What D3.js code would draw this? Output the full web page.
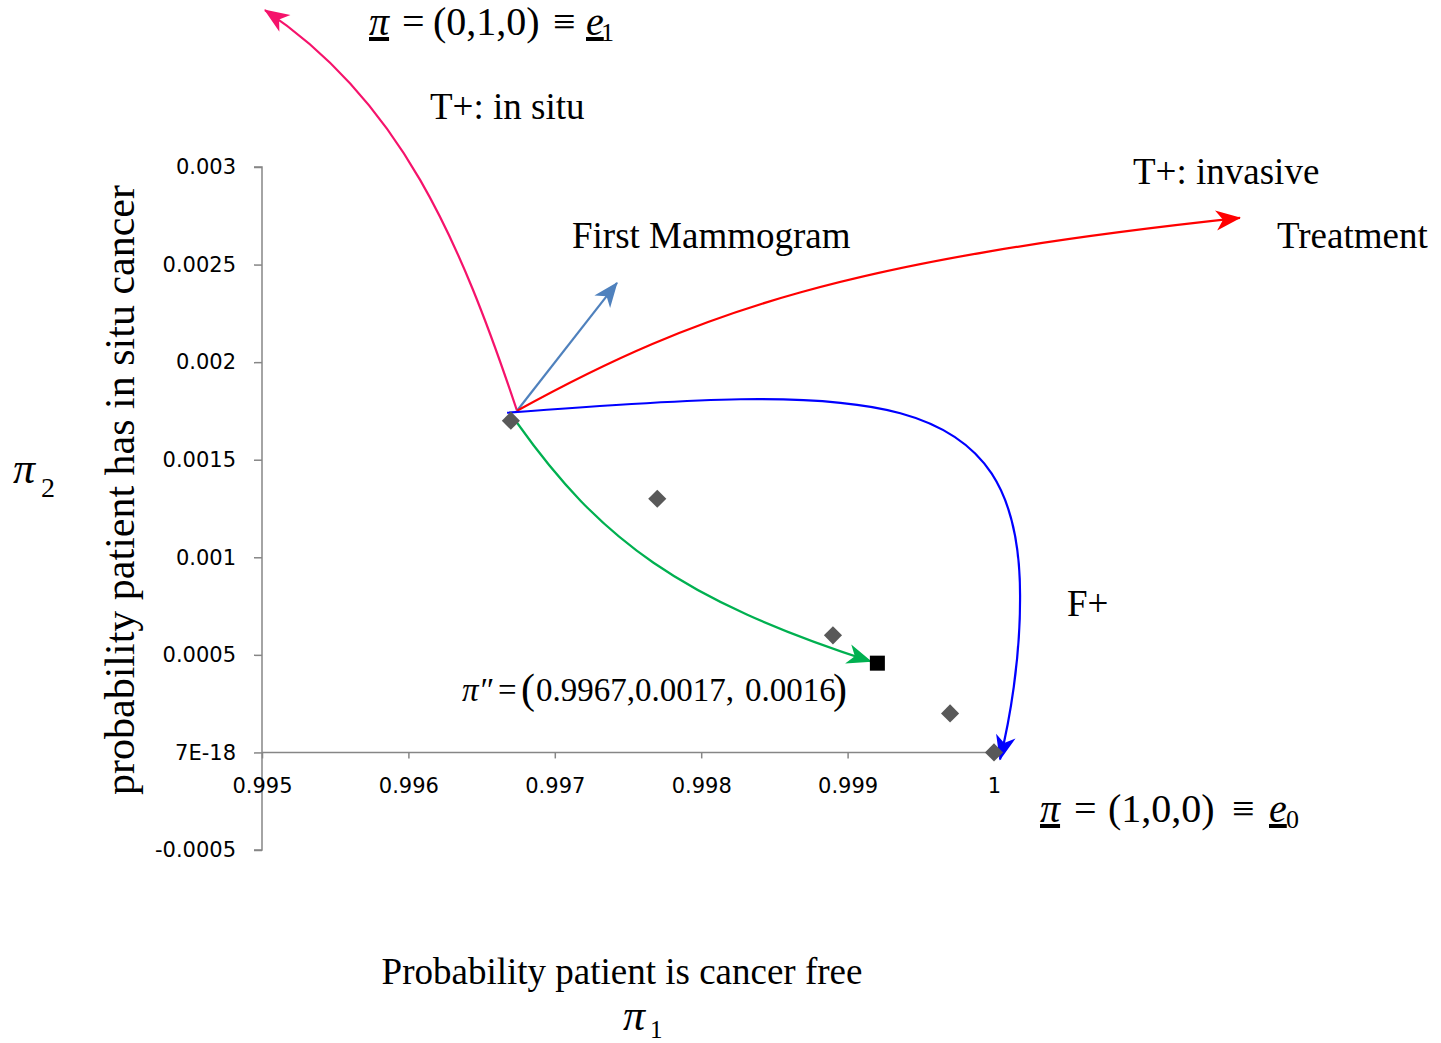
<!DOCTYPE html>
<html><head><meta charset="utf-8">
<script src="https://cdn.jsdelivr.net/npm/d3@7"></script>
<style>html,body{margin:0;padding:0;background:#fff;}svg{display:block;}</style>
</head><body>
<script>
// ---- data ----
const pointsX = [0.9967, 0.9977, 0.9989, 0.9997, 1.0];
const pointsY = [0.0017, 0.0013, 0.0006, 0.0002, 0.0];
const highlightX = [0.9992];
const highlightY = [0.00046];
const xTickValues = [0.995, 0.996, 0.997, 0.998, 0.999, 1];
const xTickLabels = ["0.995", "0.996", "0.997", "0.998", "0.999", "1"];
const yTickValues = [-0.0005, 0, 0.0005, 0.001, 0.0015, 0.002, 0.0025, 0.003];
const yTickLabels = ["-0.0005", "7E-18", "0.0005", "0.001", "0.0015", "0.002", "0.0025", "0.003"];
// annotation arrows (cubic Bezier segments, data units)
const arrowNames = ["insitu", "mammo", "invasive", "fplus", "update"];
const arrowColors = ["#F5136B", "#4F81BD", "#FF0000", "#0000FF", "#00B050"];
const arrowSegments = [
  [[[0.996742, 0.0017509], [0.996352, 0.0026263], [0.995943, 0.0033430], [0.995020, 0.0038040]]],
  [[[0.996742, 0.0017509], [0.997425, 0.0024062]]],
  [[[0.996742, 0.0017509], [0.997992, 0.0022679], [0.999016, 0.0025239], [1.001680, 0.0027389]]],
  [[[0.996674, 0.0017406], [0.999153, 0.0018840], [1.000191, 0.0019096], [1.000178, 0.0007833]],
   [[1.000178, 0.0007833], [1.000178, 0.0004761], [1.000109, 0.0001689], [1.000041, -0.0000358]]],
  [[[0.996742, 0.0016894], [0.997309, 0.0010904], [0.997855, 0.0007833], [0.999160, 0.0004660]]]
];

const W = 1441, H = 1043;
const svg = d3.select("body").append("svg").attr("width", W).attr("height", H);
svg.append("rect").attr("width", W).attr("height", H).attr("fill", "#fff");

const x = d3.scaleLinear().domain([0.995, 1]).range([262, 994]);
const y = d3.scaleLinear().domain([-0.0005, 0.003]).range([850, 167]);

const axisColor = "#868686";
// y axis
const yAxis = svg.append("g").attr("transform", `translate(${x(0.995)},0)`)
  .call(d3.axisLeft(y).tickValues(yTickValues).tickSize(8).tickPadding(18)
    .tickFormat((d, i) => yTickLabels[i]));
yAxis.select(".domain").attr("stroke", axisColor).attr("stroke-width", 1.5).attr("d", `M-8,${y(-0.0005)}H0V${y(0.003)}H-8`);
yAxis.selectAll(".tick line").attr("stroke", axisColor).attr("stroke-width", 1.5);
yAxis.selectAll(".tick text").attr("font-family", "DejaVu Sans").attr("font-size", 21).attr("fill", "#000");

// x axis at y=0
const xAxis = svg.append("g").attr("transform", `translate(0,${y(0)})`)
  .call(d3.axisBottom(x).tickValues(xTickValues).tickSize(6).tickPadding(20)
    .tickFormat((d, i) => xTickLabels[i]));
xAxis.select(".domain").attr("stroke", axisColor).attr("stroke-width", 1.5).attr("d", `M${x(0.995)},0H${x(1)}`);
xAxis.selectAll(".tick line").attr("stroke", axisColor).attr("stroke-width", 1.5);
xAxis.selectAll(".tick text").attr("font-family", "DejaVu Sans").attr("font-size", 21).attr("fill", "#000");

// arrow markers
const defs = svg.append("defs");
arrowNames.forEach((n, i) => {
  defs.append("marker").attr("id", "ah-" + n)
    .attr("viewBox", "-26 -12 28 24").attr("markerWidth", 28).attr("markerHeight", 24)
    .attr("refX", 0).attr("refY", 0).attr("orient", "auto").attr("markerUnits", "userSpaceOnUse")
    .append("path").attr("d", "M1,0 L-24,-10 L-17,0 L-24,10 Z").attr("fill", arrowColors[i]);
});

// arrows
arrowNames.forEach((n, i) => {
  const p = d3.path();
  arrowSegments[i].forEach((seg, j) => {
    const pts = seg.map(d => [x(d[0]), y(d[1])]);
    if (j === 0) p.moveTo(pts[0][0], pts[0][1]);
    if (pts.length === 2) p.lineTo(pts[1][0], pts[1][1]);
    else p.bezierCurveTo(pts[1][0], pts[1][1], pts[2][0], pts[2][1], pts[3][0], pts[3][1]);
  });
  svg.append("path").attr("d", p.toString()).attr("fill", "none")
    .attr("stroke", arrowColors[i]).attr("stroke-width", 2.2)
    .attr("marker-end", `url(#ah-${n})`);
});

// points (diamonds)
svg.selectAll(".pt").data(pointsX.map((v, i) => [v, pointsY[i]])).enter()
  .append("path").attr("class", "pt")
  .attr("d", d3.symbol(d3.symbolDiamond2, 210))
  .attr("transform", d => `translate(${x(d[0])},${y(d[1])})`)
  .attr("fill", "#595959");
svg.selectAll(".hl").data(highlightX.map((v, i) => [v, highlightY[i]])).enter()
  .append("rect").attr("class", "hl")
  .attr("x", d => x(d[0]) - 7).attr("y", d => y(d[1]) - 7)
  .attr("width", 15).attr("height", 15).attr("fill", "#000");

// text annotations
const serif = "Liberation Serif, Times New Roman, serif";
function label(tx, ty, str, size, anchor) {
  return svg.append("text").attr("x", tx).attr("y", ty).attr("font-family", serif)
    .attr("font-size", size).attr("text-anchor", anchor || "start").attr("fill", "#000").text(str);
}
label(430, 119, "T+: in situ", 37);
label(572, 248, "First Mammogram", 37);
label(1133, 184, "T+: invasive", 37);
label(1277, 248, "Treatment", 37);
label(1067, 616, "F+", 37);
label(622, 984, "Probability patient is cancer free", 37, "middle");

// y-axis title (rotated)
svg.append("text").attr("transform", "translate(134,490) rotate(-90)")
  .attr("font-family", serif).attr("font-size", 42).attr("text-anchor", "middle")
  .attr("fill", "#000").text("probability patient has in situ cancer");

// pi symbols
function piSub(tx, ty, sub, sx, sy, ss) {
  const t = svg.append("text").attr("font-family", serif).attr("fill", "#000");
  t.append("tspan").attr("x", tx).attr("y", ty).attr("font-size", 44).attr("font-style", "italic").text("π");
  t.append("tspan").attr("x", sx).attr("y", sy).attr("font-size", ss).text(sub);
}
piSub(13, 483, "2", 41, 497, 28);
piSub(623, 1030, "1", 650, 1038, 25);

// equations
function eqn(pos, ty, inner, sub) {
  const t = svg.append("text").attr("font-family", serif).attr("font-size", 40).attr("fill", "#000");
  t.append("tspan").attr("x", pos[0]).attr("y", ty).attr("font-style", "italic").attr("text-decoration", "underline").text("π");
  t.append("tspan").attr("x", pos[1]).attr("y", ty).text("=");
  t.append("tspan").attr("x", pos[2]).attr("y", ty).text(inner);
  t.append("tspan").attr("x", pos[3]).attr("y", ty).text("≡");
  t.append("tspan").attr("x", pos[4]).attr("y", ty).attr("font-style", "italic").attr("text-decoration", "underline").text("e");
  t.append("tspan").attr("x", pos[5]).attr("y", ty + 6).attr("font-size", 26).text(sub);
}
eqn([369, 402, 433, 553, 586, 601], 35, "(0,1,0)", "1");
eqn([1040, 1074, 1108, 1232, 1269, 1286], 822, "(1,0,0)", "0");

const pp = svg.append("text").attr("font-family", serif).attr("font-size", 33).attr("fill", "#000");
pp.append("tspan").attr("x", 462).attr("y", 701).attr("font-style", "italic").text("π″");
pp.append("tspan").attr("x", 498).attr("y", 701).text("=");
pp.append("tspan").attr("x", 521).attr("y", 703).attr("font-size", 42).text("(");
pp.append("tspan").attr("x", 536).attr("y", 701).text("0.9967,0.0017,");
pp.append("tspan").attr("x", 745).attr("y", 701).text("0.0016");
pp.append("tspan").attr("x", 833).attr("y", 703).attr("font-size", 42).text(")");
</script>
</body></html>
